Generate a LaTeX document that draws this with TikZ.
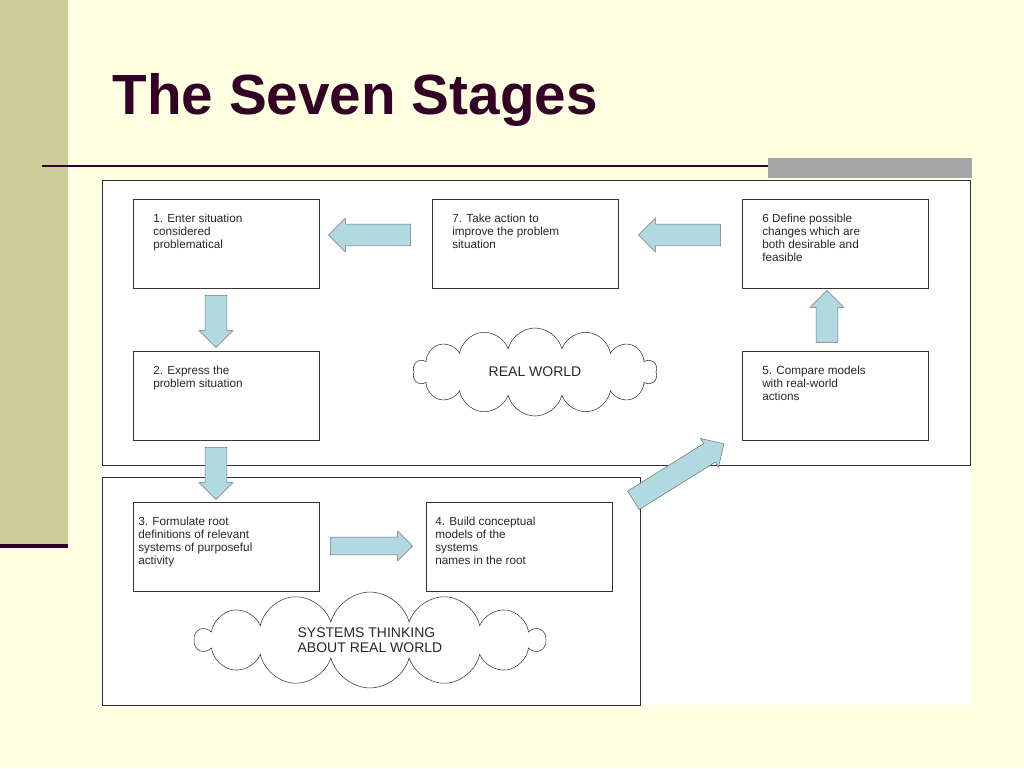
\documentclass[tikz,border=0pt]{standalone}
\usepackage{fontspec}
\setmainfont{Liberation Sans}
\usetikzlibrary{shapes.arrows,shapes.symbols}
\definecolor{bgyellow}{RGB}{255,255,226}
\definecolor{striptan}{RGB}{204,204,153}
\definecolor{titlepurple}{RGB}{51,0,38}
\definecolor{arrowblue}{RGB}{176,218,224}
\definecolor{txtgray}{RGB}{40,40,40}
\tikzset{
  stage/.style={draw=black!80,fill=white,minimum width=139.5pt,minimum height=66.75pt,anchor=north west},
  stagetext/.style={anchor=north west,align=left,font=\fontsize{8.8}{9.8}\selectfont,text=txtgray,inner sep=0pt},
  blockarrow/.style={single arrow,draw=black!55,fill=arrowblue,inner xsep=0pt,inner ysep=8pt,single arrow head extend=4.5pt,single arrow tip angle=90,minimum height=#1},
  world/.style={cloud,draw=black!80,fill=white,cloud puffs=14,aspect=2.6,font=\fontsize{10.5}{11.5}\selectfont,align=left,text=txtgray}
}
\begin{document}
\begin{tikzpicture}[x=0.75pt,y=-0.75pt]
	%background and slide frame
	\useasboundingbox (0,0) rectangle (1024,768);
	\fill [bgyellow] (0,0) rectangle (1024,768);
	\fill [striptan] (0,0) rectangle (68,545);
	\draw [titlepurple,line width=2.5pt] (0,546) -- (68,546);
	\draw [titlepurple,line width=1.3pt] (42,166) -- (970,166);
	\fill [black!35] (768,158) rectangle (972,178);
	\node [anchor=west,text=titlepurple,font=\fontsize{42.5}{46}\bfseries\selectfont] (title) at (108,100) {The Seven Stages};
	%diagram
	\fill [white] (102,180) rectangle (970,705);
	\draw [black!80] (102,180) rectangle (970,465);
	\draw [black!80] (102,477) rectangle (640,705);
	\node [stage] (s1) at (133,199) {};
	\node [stage] (s7) at (432,199) {};
	\node [stage] (s6) at (742,199) {};
	\node [stage] (s2) at (133,351) {};
	\node [stage] (s5) at (742,351) {};
	\node [stage] (s3) at (133,502) {};
	\node [stage] (s4) at (426,502) {};
	\node [stagetext] at (153,214) {1. Enter situation\\considered\\problematical};
	\node [stagetext] at (452,214) {7. Take action to\\improve the problem\\situation};
	\node [stagetext] at (762,214) {6 Define possible\\changes which are\\both desirable and\\feasible};
	\node [stagetext] at (153,366) {2. Express the\\problem situation};
	\node [stagetext] at (762,366) {5. Compare models\\with real-world\\actions};
	\node [stagetext] at (138,517) {3. Formulate root\\definitions of relevant\\systems of purposeful\\activity};
	\node [stagetext] at (435,517) {4. Build conceptual\\models of the\\systems\\names in the root};
	%block arrows
	\node [blockarrow=61.5pt,rotate=180] (a71) at (375,235) {};
	\node [blockarrow=61.5pt,rotate=180] (a67) at (685,235) {};
	\node [blockarrow=39pt,rotate=-90] (a12) at (216,316) {};
	\node [blockarrow=39pt,rotate=-90] (a23) at (216,468) {};
	\node [blockarrow=39pt,rotate=90] (a56) at (827,322) {};
	\node [blockarrow=61.5pt,inner ysep=6.5pt] (a34) at (367,546) {};
	\node [blockarrow=80pt,rotate=32] (a45) at (674,475) {};
	%clouds
	\node [world,minimum width=183pt,minimum height=66pt] (real) at (535,372) {REAL WORLD};
	\node [world,aspect=3.6,minimum width=262pt,minimum height=60pt] (think) at (370,640) {SYSTEMS THINKING\\ABOUT REAL WORLD};
\end{tikzpicture}
\end{document}
